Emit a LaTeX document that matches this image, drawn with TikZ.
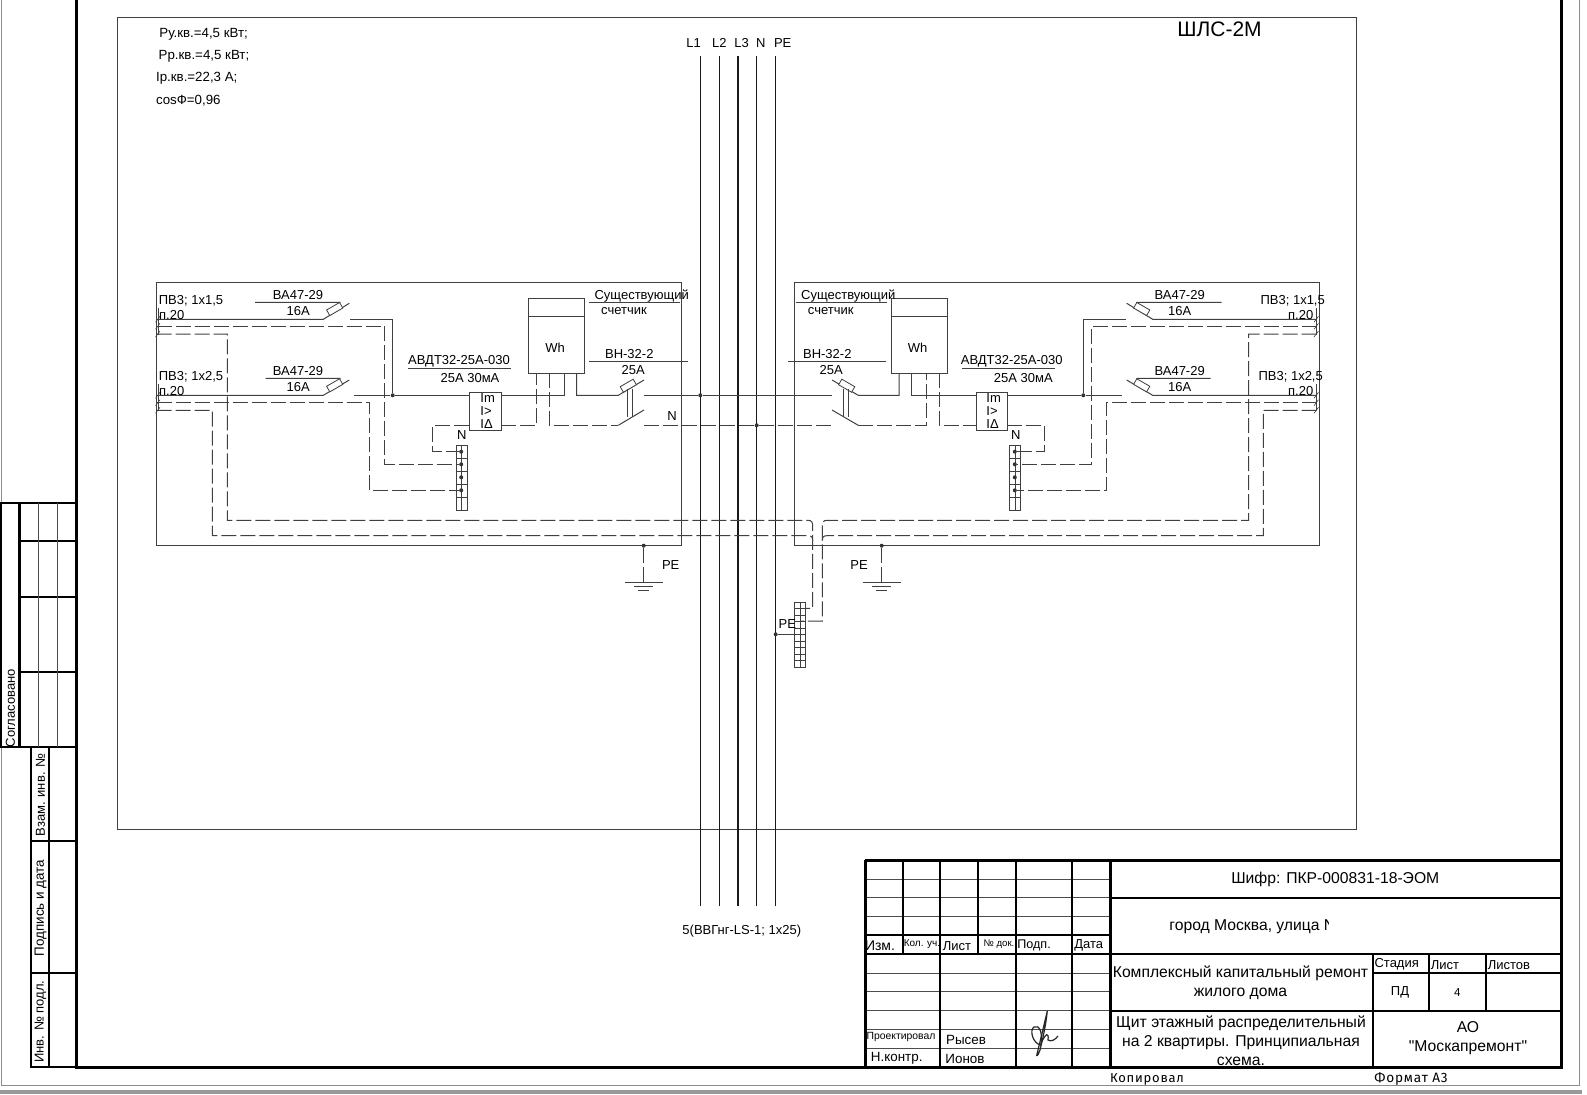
\documentclass[tikz,border=0pt]{standalone}
\usepackage{fontspec}
\setmainfont{Liberation Sans}
\newfontfamily\orgfont{Liberation Sans}
\newfontfamily\gostfont[LetterSpace=6]{Fira Sans}
\tikzset{
	lbl/.style={inner sep=0, font=\fontsize{6.5}{8}\selectfont},
	toplbl/.style={lbl, anchor=west, font=\fontsize{6.65}{8}\selectfont},
	blocklbl/.style={lbl, font=\fontsize{7.85}{9.5}\selectfont},
	wire/.style={line width=0.5pt, draw=black!75},
	dwire/.style={wire, dash pattern=on 7.5pt off 2pt},
	buswire/.style={line width=0.75pt, draw=black!90},
	frameline/.style={line width=1.5pt, draw=black},
	tableline/.style={line width=0.5pt, draw=black!70},
	dot/.style={circle, fill=black!80, inner sep=0, minimum size=2pt},
	fusebox/.style={draw=black!75, line width=0.4pt, fill=white, inner sep=0, minimum width=7.5pt, minimum height=3.2pt},
	rcdbox/.style={draw=black!75, line width=0.5pt, fill=white, inner sep=0, minimum width=15.6pt, minimum height=19pt, anchor=north west},
	meterbox/.style={draw=black!75, line width=0.5pt, fill=white, inner sep=0, minimum width=28pt, minimum height=37.8pt, anchor=north west},
	termbox/.style={draw=black!75, line width=0.4pt, inner sep=0, minimum width=5.5pt, anchor=north west}
}
\begin{document}
\begin{tikzpicture}[x=0.5pt,y=-0.5pt]
	\useasboundingbox (0,0) rectangle (1587,1094);
	% Край листа
	\fill[white] (0,0) rectangle (1587,1094);
	\fill[black!40] (0,1090) rectangle (1582,1094);
	\draw[black!45, line width=0.5pt] (1,0) -- (1,1085) -- (1579,1085) -- (1579,0);
	
	% Рамка и внутренний контур
	\draw[frameline] (76,0) -- (76,1067) -- (1561,1067) -- (1561,0);
	\draw[wire] (117.3,17.3) rectangle (1356,829.5);
	\node[lbl, font=\fontsize{10.5}{12}\selectfont] (title) at (1219.5,29.3) {ШЛС-2М};
	
	% Расчётные величины
	\node[toplbl] (loadA) at (159,34) {Ру.кв.=4,5 кВт;};
	\node[toplbl] (loadB) at (158.3,56.5) {Рр.кв.=4,5 кВт;};
	\node[toplbl] (loadC) at (155.7,78.5) {Iр.кв.=22,3 А;};
	\node[toplbl] (loadD) at (155.7,100.5) {cosФ=0,96};
	
	% Щиты
	\draw[wire] (156.7,282.7) rectangle (681.7,545.3);
	\draw[wire] (794.3,282.7) rectangle (1319.3,545.3);
	
	% Шины
	\foreach \xbus/\bname/\xlab in {700.3/L1/693.7, 719.3/L2/719.3, 738/L3/741.7, 756.7/N/760.7, 775.7/PE/782.7}{
		\node[lbl] (lab\bname) at (\xlab,43.3) {\bname};
		\coordinate (top\bname) at (\xbus,56);
		\coordinate (bot\bname) at (\xbus,906);
		\draw[buswire] (top\bname) -- (bot\bname);
	}
	\node[lbl] (cable) at (741.8,931) {5(ВВГнг-LS-1; 1x25)};
	
	% Счётчики и узо
	\node[meterbox, minimum width=28pt] (meterL) at (528.3,297.7) {};
	\node[lbl] (whL) at (555,347.5) {Wh};
	\draw[wire] (528.3,316.3) -- (584.3,316.3);
	\node[meterbox] (meterR) at (891,297.7) {};
	\node[lbl] (whR) at (917.5,347.5) {Wh};
	\draw[wire] (891,316.3) -- (947,316.3);
	
	% Клеммы N
	\foreach \xterm/\tname in {455.7/termL,1009.3/termR}{
		\node[termbox, minimum height=32.5pt] (\tname) at (\xterm,445.3) {};
		\draw[wire, line width=0.3pt] ({\xterm+5.5},445.3) -- ({\xterm+5.5},510.3);
		\foreach \r in {1,...,4}
			\draw[wire, line width=0.3pt] (\xterm,{445.3+\r*13}) -- ({\xterm+11},{445.3+\r*13});
		\foreach \yd/\dn in {451.7/a,464.3/b,477.3/c,490.3/d}
			\node[dot] (\tname\dn) at ({\xterm+5.5},\yd) {};
	}
	\node[lbl] (nL) at (461.7,435) {N};
	\node[lbl] (nR) at (1015.7,435) {N};
	
	% Клемма PE
	\node[termbox, minimum height=32.2pt] (termPE) at (794.3,602.3) {};
	\draw[wire, line width=0.3pt] (800,602.3) -- (800,666.7);
	\foreach \r in {1,...,9}
		\draw[wire, line width=0.3pt] (794.3,{602.3+\r*6.44}) -- (805.3,{602.3+\r*6.44});
	\node[dot] (busPE) at (775.7,634.3) {};
	\draw[wire] (busPE) -- (794.3,634.3);
	\node[lbl] (labPE) at (787.3,624.3) {PE};
	
	% Точки соединения
	\node[dot] (jL) at (392.7,395.3) {};
	\node[dot] (jR) at (1083.3,395.3) {};
	\node[dot] (jL1) at (700.3,395.3) {};
	\node[dot] (jN) at (756.7,425.3) {};
	
	% Фаза, левая часть
	\draw[wire] (156.7,319.3) -- (323.3,319.3) -- (349.3,303.3);
	\draw[wire] (350,319.3) -- (392.7,319.3) -- (jL);
	\draw[wire] (156.7,395.3) -- (323.3,395.3) -- (349.3,380);
	\draw[wire] (354,395.3) -- (jL) -- (469.3,395.3);
	\draw[wire] (500.7,395.3) -- (564.3,395.3) -- (564.3,373.3);
	\draw[wire] (576.7,373.3) -- (576.7,395.3) -- (618.3,395.3) -- (644,380);
	\draw[wire] (644,395.3) -- (jL1) -- (832,395.3);
	
	% Фаза, правая часть
	\draw[wire] (1316.7,319.3) -- (1152.7,319.3) -- (1126.7,303.3);
	\draw[wire] (1126,319.3) -- (1083.3,319.3) -- (jR);
	\draw[wire] (1316.7,395.3) -- (1152.7,395.3) -- (1126.7,380);
	\draw[wire] (1121.7,395.3) -- (jR) -- (1006.7,395.3);
	\draw[wire] (975.7,395.3) -- (911.7,395.3) -- (911.7,373.3);
	\draw[wire] (899,373.3) -- (899,395.3) -- (858.3,395.3) -- (832,380);
	
	% Ноль
	\draw[dwire] (156.7,326.3) -- (384.7,326.3) -- (384.7,464.3) -- (termLb);
	\draw[dwire] (156.7,402.7) -- (369.3,402.7) -- (369.3,490.3) -- (termLd);
	\draw[dwire] (469.3,425.3) -- (432.7,425.3) -- (432.7,451.7) -- (termLa);
	\draw[dwire] (500.7,425.3) -- (536.7,425.3) -- (536.7,373.3);
	\draw[dwire] (549,373.3) -- (549,425.3) -- (618.3,425.3);
	\draw[wire] (618.3,425.3) -- (644,410);
	\draw[dwire] (644,425.3) -- (jN) -- (832,425.3);
	\draw[wire] (832,410) -- (858.3,425.3);
	\draw[dwire] (858.3,425.3) -- (926.7,425.3) -- (926.7,373.3);
	\draw[dwire] (939.3,373.3) -- (939.3,425.3) -- (975.7,425.3);
	\draw[dwire] (1006.7,425.3) -- (1044,425.3) -- (1044,451.7) -- (termRa);
	\draw[dwire] (1316.7,326.3) -- (1091,326.3) -- (1091,464.3) -- (termRb);
	\draw[dwire] (1316.7,402.7) -- (1106,402.7) -- (1106,490.3) -- (termRd);
	
	% Защитный проводник
	\draw[dwire] (156.7,334) -- (227.3,334) -- (227.3,520.3) -- (808,520.3) .. controls (811.5,520.3) and (812.7,522) .. (812.7,526) -- (812.7,608.3) -- (805.3,608.3);
	\draw[dwire] (156.7,410.3) -- (212.3,410.3) -- (212.3,535.7) -- (808,535.7) .. controls (811.5,535.7) and (812.7,537) .. (812.7,541);
	\draw[dwire] (1316.7,334) -- (1248.7,334) -- (1248.7,520.3) -- (827,520.3) .. controls (823.5,520.3) and (822.3,522) .. (822.3,526) -- (822.3,621) -- (800,621);
	\draw[dwire] (1316.7,410.3) -- (1263.3,410.3) -- (1263.3,535.7) -- (827,535.7) .. controls (823.5,535.7) and (822.3,537) .. (822.3,541);
	
	% Выключатели и предохранители
	\foreach \xf/\yf/\ang/\fn in {334.7/309/30/fuseA, 334.7/385.3/30/fuseB, 1141.7/309/-30/fuseC, 1141.7/385.3/-30/fuseD, 628.3/385.7/30/fuseE, 846.7/385.7/-30/fuseF}
		\node[fusebox, rotate=\ang] (\fn) at (\xf,\yf) {};
	\draw[wire] (255,302.3) -- (340,302.3) -- (fuseA);
	\draw[wire] (265.7,378.3) -- (340,378.3) -- (fuseB);
	\draw[wire] (1221.7,302.3) -- (1136.7,302.3) -- (fuseC);
	\draw[wire] (1210.7,378.3) -- (1136.7,378.3) -- (fuseD);
	\foreach \xv in {627.3,632.3,843.7,848.7}
		\draw[wire] (\xv,389) -- (\xv,417);
	
	% Концы кабелей
	\foreach \ytick in {319.3,326.3,334,395.3,402.7,410.3}{
		\draw[wire, line width=0.3pt] (155.5,{\ytick+3}) -- (160,{\ytick-3});
		\draw[wire, line width=0.3pt] (1314,{\ytick+3}) -- (1318.5,{\ytick-3});
	}
	\foreach \xend in {158,1316}{
		\draw[wire, line width=0.3pt] (\xend,308) -- (\xend,335);
		\draw[wire, line width=0.3pt] (\xend,384) -- (\xend,411);
	}
	
	% Блоки узо поверх проводов
	\node[rcdbox] (rcdL) at (469.3,392.3) {};
	\node[rcdbox] (rcdR) at (975.7,392.3) {};
	\foreach \xr/\rn in {480/L, 986/R}{
		\node[lbl, anchor=west] (im\rn) at (\xr,398.3) {Im};
		\node[lbl, anchor=west] (ig\rn) at (\xr,411) {I>};
		\node[lbl, anchor=west] (id\rn) at (\xr,424.3) {IΔ};
	}
	
	% Подписи левого щита
	\node[lbl] (cabA) at (191,301) {ПВ3; 1х1,5};
	\node[lbl] (cabB) at (171.7,315) {п.20};
	\node[lbl] (cabC) at (191,377) {ПВ3; 1х2,5};
	\node[lbl] (cabD) at (171.7,391) {п.20};
	\node[lbl] (vaA) at (298,295) {ВА47-29};
	\node[lbl] (vaB) at (298.3,311.3) {16А};
	\node[lbl] (vaC) at (298,371) {ВА47-29};
	\node[lbl] (vaD) at (298.3,387.3) {16А};
	\node[lbl] (rcdA) at (459,361.7) {АВДТ32-25А-030};
	\node[lbl] (rcdB) at (470,377.7) {25А 30мА};
	\draw[wire] (408,368.3) -- (511,368.3);
	\node[lbl] (metA) at (641.7,296) {Существующий};
	\node[lbl] (metB) at (624,311.5) {счетчик};
	\draw[wire] (589,302.3) -- (680,302.3);
	\node[lbl] (vnA) at (629.3,354) {ВН-32-2};
	\node[lbl] (vnB) at (633.3,370) {25А};
	\draw[wire] (589,361.3) -- (687.7,361.3);
	\node[lbl] (nBus) at (672,415.7) {N};
	
	% Подписи правого щита
	\node[lbl] (cabE) at (1292.7,301) {ПВ3; 1х1,5};
	\node[lbl] (cabF) at (1300.7,315) {п.20};
	\node[lbl] (cabG) at (1290.7,377) {ПВ3; 1х2,5};
	\node[lbl] (cabH) at (1300.7,391) {п.20};
	\node[lbl] (vaE) at (1179.7,295) {ВА47-29};
	\node[lbl] (vaF) at (1179.7,311.3) {16А};
	\node[lbl] (vaG) at (1179.7,371) {ВА47-29};
	\node[lbl] (vaH) at (1179.7,387.3) {16А};
	\node[lbl] (rcdC) at (1011.7,361.7) {АВДТ32-25А-030};
	\node[lbl] (rcdD) at (1023.3,377.7) {25А 30мА};
	\draw[wire] (961.7,368.3) -- (1055,368.3);
	\node[lbl] (metC) at (848.3,296) {Существующий};
	\node[lbl] (metD) at (830.7,311.5) {счетчик};
	\draw[wire] (795.7,302.3) -- (886.7,302.3);
	\node[lbl] (vnC) at (827.3,354) {ВН-32-2};
	\node[lbl] (vnD) at (831.3,370) {25А};
	\draw[wire] (788.3,361.3) -- (886,361.3);
	
	% Заземление
	\foreach \xg/\gn/\xl in {643.7/gndL/670.7, 881.7/gndR/859}{
		\node[dot] (\gn) at (\xg,545.7) {};
		\coordinate (\gn b) at (\xg,582.7);
		\draw[dwire] (\gn) -- (\gn b);
		\draw[wire] ({\xg-19},582.7) -- ({\xg+19},582.7);
		\draw[wire] ({\xg-9.7},586.7) -- ({\xg+9.7},586.7);
		\draw[wire] ({\xg-5.5},590.7) -- ({\xg+5.5},590.7);
		\node[lbl] (\gn l) at (\xl,565) {PE};
	}
	
	% Штамп: левая часть
	\foreach \yl in {879,897.7,916.7,973,991.7,1010.7,1029.3,1048.3}
		\draw[tableline] (865,\yl) -- (1110,\yl);
	\foreach \xl in {902.7,940.3,978,1015.7,1072.3}
		\draw[frameline, line width=1pt] (\xl,860) -- (\xl,954);
	\foreach \xl in {940.3,1015.7,1072.3}
		\draw[frameline, line width=1pt] (\xl,954) -- (\xl,1067);
	\draw[frameline, line width=1pt] (865,935.3) -- (1110,935.3);
	\draw[frameline, line width=1pt] (865,954) -- (1561,954);
	\draw[frameline, line width=1pt] (1110,897.7) -- (1561,897.7);
	\draw[frameline, line width=1pt] (1110,1010.7) -- (1561,1010.7);
	\draw[frameline] (865,860) -- (1561,860);
	\draw[frameline] (865,860) -- (865,1067);
	\draw[frameline] (1110,860) -- (1110,1067);
	\draw[frameline, line width=1pt] (1372.7,954) -- (1372.7,1067);
	\draw[frameline, line width=1pt] (1429.3,954) -- (1429.3,1010.7);
	\draw[frameline, line width=1pt] (1485.7,954) -- (1485.7,1010.7);
	\draw[frameline, line width=0.7pt] (1372.7,973) -- (1561,973);
	
	% Штамп: тексты
	\node[lbl, font=\fontsize{7}{8}\selectfont] (izm) at (880,945.7) {Изм.};
	\node[lbl, font=\fontsize{5}{6}\selectfont] (kol) at (922,944.5) {Кол. уч.};
	\node[lbl] (lst) at (957,945.7) {Лист};
	\node[lbl, font=\fontsize{4.8}{6}\selectfont] (dok) at (999,944.5) {№ док.};
	\node[lbl, font=\fontsize{6.3}{8}\selectfont] (podp) at (1034,945.3) {Подп.};
	\node[lbl] (dat) at (1088.7,945.3) {Дата};
	\node[lbl, font=\fontsize{5.2}{6}\selectfont] (proj) at (901,1037) {Проектировал};
	\node[lbl, font=\fontsize{6.7}{8}\selectfont] (rys) at (966,1040) {Рысев};
	\node[lbl, font=\fontsize{6.7}{8}\selectfont] (nk) at (896.7,1058) {Н.контр.};
	\node[lbl, font=\fontsize{6.7}{8}\selectfont] (ion) at (965,1059) {Ионов};
	\node[blocklbl] (code) at (1335.3,879.3) {Шифр: ПКР-000831-18-ЭОМ};
	\node[blocklbl, anchor=west] (addr) at (1169,926.7) {город Москва, улица N};
	\fill[white] (1329,915) rectangle (1345,936);
	\node[blocklbl, align=center] (work) at (1240.5,983) {Комплексный капитальный ремонт\\жилого дома};
	\node[blocklbl, align=center] (shield) at (1241,1040.3) {Щит этажный распределительный\\на 2 квартиры. Принципиальная\\схема.};
	\node[lbl] (stg) at (1396.7,964.5) {Стадия};
	\node[lbl] (sht) at (1445,964.7) {Лист};
	\node[lbl] (shts) at (1509,964.7) {Листов};
	\node[lbl] (pd) at (1400,992.5) {ПД};
	\node[lbl, font=\fontsize{5.8}{7}\selectfont] (num) at (1457.3,992.3) {4};
	\node[blocklbl, align=center, font=\orgfont\fontsize{7.85}{9.5}\selectfont] (org) at (1468,1038.5) {АО\\"Москапремонт"};
	\node[lbl, font=\gostfont\fontsize{6.5}{8}\selectfont] (copy) at (1147,1079) {Копировал};
	\node[lbl, font=\gostfont\fontsize{6.8}{8}\selectfont] (fmt) at (1411,1079) {Формат А3};
	
	% Подпись
	\draw[black!85, line width=0.6pt] (1047.3,1011) .. controls (1044,1025) and (1040,1042) .. (1037,1054) .. controls (1036,1057) and (1038,1056) .. (1040,1050) .. controls (1043,1038) and (1046,1024) .. (1047.3,1011);
	\draw[black!85, line width=0.6pt] (1041,1045) .. controls (1033,1044) and (1029,1030) .. (1034,1027) .. controls (1039,1024) and (1043,1033) .. (1041,1043) .. controls (1046,1033) and (1049,1032) .. (1048,1040) .. controls (1051,1042) and (1055,1040) .. (1058,1036);
	
	% Левая боковая таблица
	\draw[frameline] (19.3,503) -- (19.3,747);
	\draw[frameline] (0.8,503) -- (0.8,747);
	\foreach \yt in {503,747}
		\draw[frameline, line width=1pt] (0,\yt) -- (76,\yt);
	\foreach \yt in {540.7,597,672.3}
		\draw[frameline, line width=1pt] (19.3,\yt) -- (76,\yt);
	\foreach \xt in {38.3,57.3}
		\draw[tableline] (\xt,503) -- (\xt,747);
	\node[lbl, rotate=90] (agr) at (10.3,708) {Согласовано};
	\draw[frameline, line width=1pt] (31,747) -- (31,1067) -- (76,1067);
	\draw[frameline, line width=1pt] (49.3,747) -- (49.3,1067);
	\foreach \yt in {841,972.7}
		\draw[frameline, line width=1pt] (31,\yt) -- (76,\yt);
	\node[lbl, rotate=90] (inva) at (40.5,795) {Взам. инв. №};
	\node[lbl, rotate=90, font=\fontsize{6.7}{8}\selectfont] (invb) at (40.5,908) {Подпись и дата};
	\node[lbl, rotate=90] (invc) at (40.5,1021.7) {Инв. № подл.};
\end{tikzpicture}
\end{document}
